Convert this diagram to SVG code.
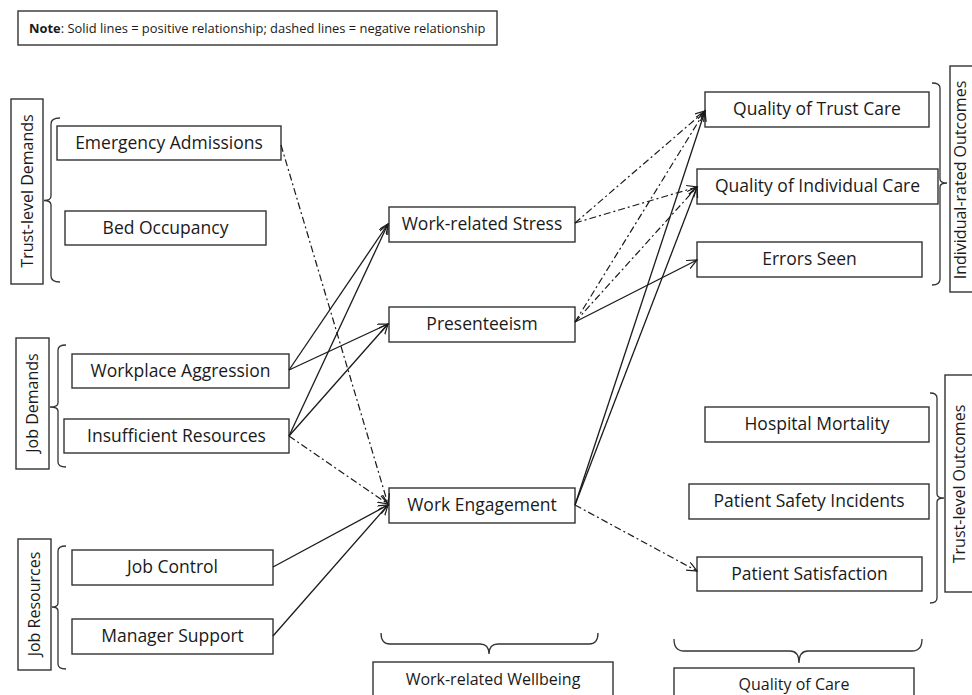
<svg xmlns="http://www.w3.org/2000/svg" width="972" height="695" viewBox="0 0 972 695">
  <defs>
    <marker id="arrow" markerUnits="userSpaceOnUse" markerWidth="12" markerHeight="10" refX="10" refY="4.5" orient="auto">
      <path d="M0,0 L10,4.5 L0,9" fill="none" stroke="#1a1a1a" stroke-width="1.2" stroke-dasharray="none"/>
    </marker>
    <style>
      .box { fill: #ffffff; stroke: #333333; stroke-width: 1.4; }
      .lbl { font-family: "Open Sans", "Liberation Sans", sans-serif; font-size: 17.5px; fill: #1a1a1a; text-anchor: middle; }
      .grp { font-family: "Open Sans", "Liberation Sans", sans-serif; font-size: 16px; fill: #1a1a1a; text-anchor: middle; }
      .note { font-family: "Open Sans", "Liberation Sans", sans-serif; font-size: 12.9px; fill: #1a1a1a; }
      .brace { fill: none; stroke: #333333; stroke-width: 1.3; }
      .pos { fill: none; stroke: #1a1a1a; stroke-width: 1.3; marker-end: url(#arrow); }
      .neg { fill: none; stroke: #1a1a1a; stroke-width: 1.2; stroke-dasharray: 7 3 2 3; marker-end: url(#arrow); }
    </style>
  </defs>
  <rect width="972" height="695" fill="#ffffff"/>

  <!-- legend -->
  <g id="note">
    <rect class="box" x="18" y="11" width="479" height="34"/>
    <text class="note" x="29" y="33"><tspan font-weight="bold">Note</tspan>: Solid lines = positive relationship; dashed lines = negative relationship</text>
  </g>

  <!-- left-hand group labels with braces -->
  <g id="trust-level-demands">
    <rect class="box" x="11" y="99" width="32" height="185"/>
    <text class="grp" transform="translate(33,191) rotate(-90)">Trust-level Demands</text>
    <path class="brace" d="M60,118 Q51,118 51,124 L51,196 Q51,200.5 44,200.5 Q51,200.5 51,205 L51,276 Q51,282 60,282"/>
  </g>
  <g id="job-demands">
    <rect class="box" x="16" y="338" width="33" height="131"/>
    <text class="grp" transform="translate(38,403) rotate(-90)">Job Demands</text>
    <path class="brace" d="M66,345 Q58,345 58,350 L58,403 Q58,407 50,407 Q58,407 58,411 L58,462 Q58,467 66,467"/>
  </g>
  <g id="job-resources">
    <rect class="box" x="18" y="539" width="33" height="131"/>
    <text class="grp" transform="translate(40,604) rotate(-90)">Job Resources</text>
    <path class="brace" d="M66,546 Q58,546 58,551 L58,603 Q58,607 52,607 Q58,607 58,611 L58,664 Q58,669 66,669"/>
  </g>

  <!-- predictors -->
  <g id="emergency-admissions">
    <rect class="box" x="57" y="126" width="224" height="34"/>
    <text class="lbl" x="169" y="149">Emergency Admissions</text>
  </g>
  <g id="bed-occupancy">
    <rect class="box" x="65" y="211" width="201" height="34"/>
    <text class="lbl" x="165.5" y="234">Bed Occupancy</text>
  </g>
  <g id="workplace-aggression">
    <rect class="box" x="72" y="354" width="217" height="34"/>
    <text class="lbl" x="180.5" y="377">Workplace Aggression</text>
  </g>
  <g id="insufficient-resources">
    <rect class="box" x="64" y="419" width="225" height="34"/>
    <text class="lbl" x="176.5" y="442">Insufficient Resources</text>
  </g>
  <g id="job-control">
    <rect class="box" x="72" y="550" width="201" height="35"/>
    <text class="lbl" x="172.5" y="573">Job Control</text>
  </g>
  <g id="manager-support">
    <rect class="box" x="72" y="619" width="201" height="35"/>
    <text class="lbl" x="172.5" y="642">Manager Support</text>
  </g>

  <!-- wellbeing -->
  <g id="work-related-stress">
    <rect class="box" x="389" y="207" width="186" height="35"/>
    <text class="lbl" x="482" y="230">Work-related Stress</text>
  </g>
  <g id="presenteeism">
    <rect class="box" x="389" y="307" width="186" height="35"/>
    <text class="lbl" x="482" y="330">Presenteeism</text>
  </g>
  <g id="work-engagement">
    <rect class="box" x="389" y="488" width="186" height="35"/>
    <text class="lbl" x="482" y="511">Work Engagement</text>
  </g>
  <g id="work-related-wellbeing">
    <path class="brace" d="M381,633 Q381,644 390,644 L480,644 Q489,644 489,654 Q489,644 498,644 L589,644 Q598,644 598,633"/>
    <rect class="box" x="373" y="662" width="240" height="40"/>
    <text class="grp" x="493" y="685">Work-related Wellbeing</text>
  </g>

  <!-- individual-rated outcomes -->
  <g id="quality-of-trust-care">
    <rect class="box" x="705" y="92" width="224" height="35"/>
    <text class="lbl" x="817" y="115">Quality of Trust Care</text>
  </g>
  <g id="quality-of-individual-care">
    <rect class="box" x="697" y="169" width="241" height="35"/>
    <text class="lbl" x="817.5" y="192">Quality of Individual Care</text>
  </g>
  <g id="errors-seen">
    <rect class="box" x="697" y="242" width="225" height="35"/>
    <text class="lbl" x="809.5" y="265">Errors Seen</text>
  </g>
  <g id="individual-rated-outcomes">
    <path class="brace" d="M932,83 Q940,83 940,88 L940,179 Q940,183 947,183 Q940,183 940,187 L940,279 Q940,285 932,285"/>
    <rect class="box" x="950" y="66" width="40" height="226"/>
    <text class="grp" transform="translate(966,180) rotate(-90)">Individual-rated Outcomes</text>
  </g>

  <!-- trust-level outcomes -->
  <g id="hospital-mortality">
    <rect class="box" x="705" y="407" width="224" height="35"/>
    <text class="lbl" x="817" y="430">Hospital Mortality</text>
  </g>
  <g id="patient-safety-incidents">
    <rect class="box" x="689" y="484" width="240" height="35"/>
    <text class="lbl" x="809" y="507">Patient Safety Incidents</text>
  </g>
  <g id="patient-satisfaction">
    <rect class="box" x="697" y="557" width="225" height="34"/>
    <text class="lbl" x="809.5" y="580">Patient Satisfaction</text>
  </g>
  <g id="trust-level-outcomes">
    <path class="brace" d="M930,393 Q937,393 937,398 L937,494 Q937,498 944,498 Q937,498 937,502 L937,598 Q937,603 930,603"/>
    <rect class="box" x="945" y="375" width="40" height="217"/>
    <text class="grp" transform="translate(965,484) rotate(-90)">Trust-level Outcomes</text>
  </g>
  <g id="quality-of-care">
    <path class="brace" d="M674,639 Q674,651 684,651 L790,651 Q799,651 799,663 Q799,651 808,651 L912,651 Q922,651 922,639"/>
    <rect class="box" x="674" y="668" width="240" height="34"/>
    <text class="grp" x="794" y="690">Quality of Care</text>
  </g>

  <!-- paths between constructs -->
  <g id="connectors">
    <!-- positive -->
    <line class="pos" x1="289" y1="370" x2="388" y2="224"/>
    <line class="pos" x1="289" y1="436" x2="388" y2="224"/>
    <line class="pos" x1="289" y1="370" x2="388" y2="324"/>
    <line class="pos" x1="289" y1="436" x2="388" y2="324"/>
    <line class="pos" x1="273" y1="567" x2="388" y2="505"/>
    <line class="pos" x1="273" y1="636" x2="388" y2="505"/>
    <line class="pos" x1="575" y1="322" x2="697" y2="260"/>
    <line class="pos" x1="575" y1="505" x2="705" y2="111"/>
    <line class="pos" x1="575" y1="505" x2="697" y2="187"/>
    <!-- negative -->
    <line class="neg" x1="281" y1="145" x2="388" y2="504"/>
    <line class="neg" x1="289" y1="436" x2="388" y2="504"/>
    <line class="neg" x1="575" y1="223" x2="705" y2="111"/>
    <line class="neg" x1="575" y1="223" x2="697" y2="187"/>
    <line class="neg" x1="575" y1="322" x2="705" y2="111"/>
    <line class="neg" x1="575" y1="322" x2="697" y2="187"/>
    <line class="neg" x1="575" y1="505" x2="697" y2="571"/>
  </g>
</svg>
